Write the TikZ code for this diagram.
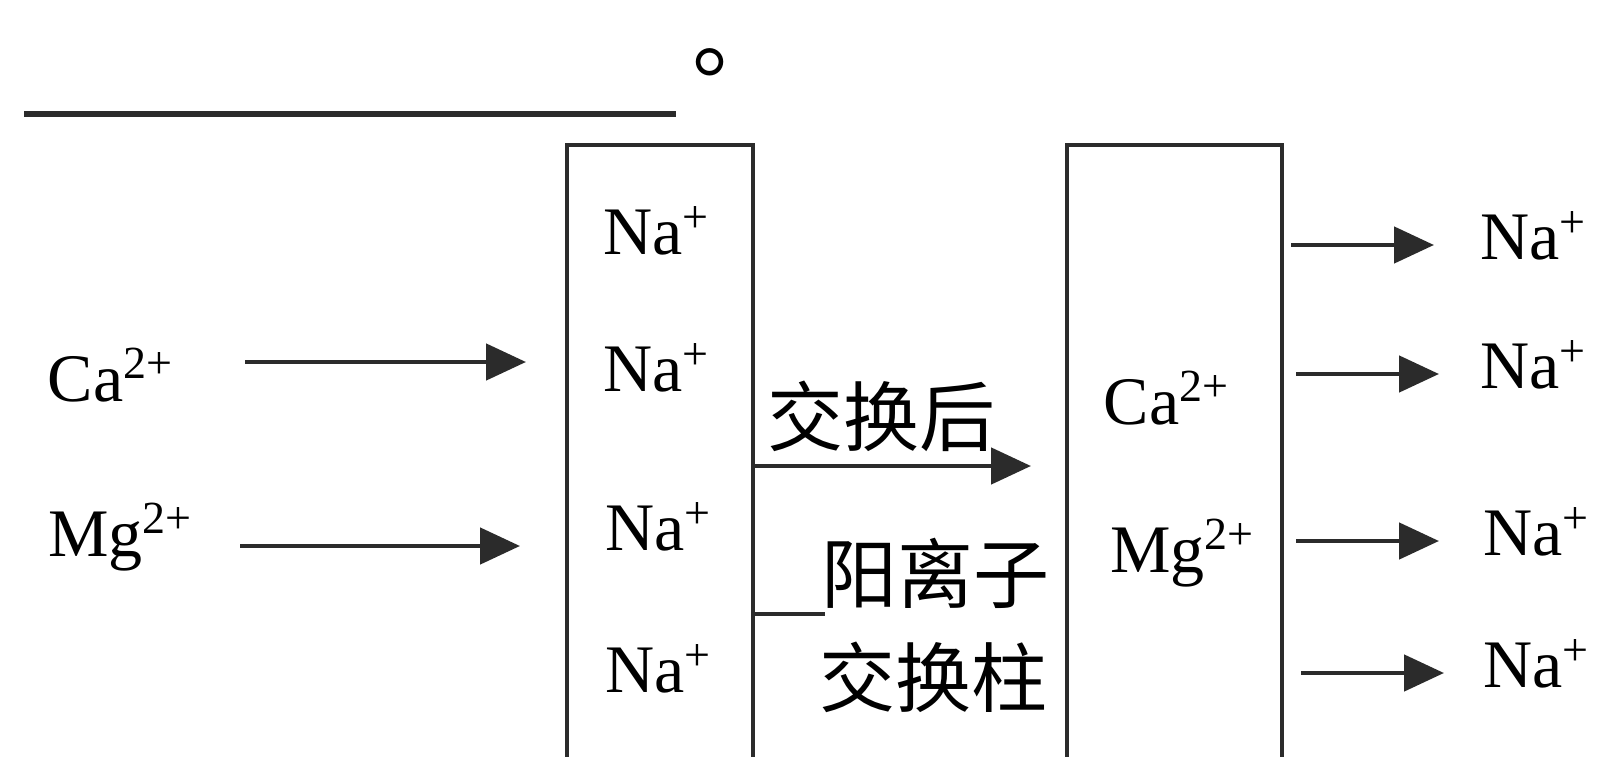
\documentclass[tikz,border=0pt]{standalone}
\usepackage{fontspec}
\usetikzlibrary{arrows.meta}
\newfontfamily\ionfam{Liberation Serif}
\newfontfamily\cjkfam{Noto Sans CJK SC}
\newcommand\ionf{\ionfam\fontsize{68}{80}\selectfont}
\newcommand\cjkf{\cjkfam\fontsize{76}{90}\selectfont}
\newcommand\stopf{\cjkfam\fontsize{90}{100}\selectfont}
\newcommand\supr[1]{\raisebox{0.33em}{\fontsize{46}{50}\selectfont #1}}
\definecolor{linegray}{HTML}{2B2B2B}
\tikzset{
  ion/.style={font=\ionf, inner sep=0pt, text=black},
  cjk/.style={font=\cjkf, inner sep=0pt, text=black},
  column/.style={draw=linegray, line width=4pt, inner sep=0pt, outer sep=0pt, minimum height=660pt},
  arr/.style={draw=linegray, line width=4.8pt, -{Triangle[length=40pt,width=36pt]}},
  plain/.style={draw=linegray, line width=4pt},
}
\begin{document}
\begin{tikzpicture}[x=1pt,y=1pt]
\useasboundingbox (0,0) rectangle (1600,-757);
\fill[white] (0,0) rectangle (1600,-757);
\clip (0,0) rectangle (1600,-757);
% answer blank
\coordinate (blankL) at (24,-114);
\coordinate (blankR) at (676,-114);
\draw[draw=linegray, line width=6pt] (blankL) -- (blankR);
\node[font=\stopf, inner sep=0pt, anchor=base west, text height=24pt, text depth=0pt] (stop) at (692,-71) {。};
% columns
\node[column, minimum width=186pt] (box1) at (660,-475) {};
\node[column, minimum width=215pt] (box2) at (1174.5,-475) {};
% ions in first column
\node[ion] (na1) at (656,-231) {Na\supr{+}};
\node[ion] (na2) at (656,-368) {Na\supr{+}};
\node[ion] (na3) at (658,-527) {Na\supr{+}};
\node[ion] (na4) at (658,-669) {Na\supr{+}};
% incoming ions
\node[ion] (ca) at (110,-375) {Ca\supr{2+}};
\node[ion] (mg) at (120,-537) {Mg\supr{2+}};
\coordinate (caS) at (245,-362);
\coordinate (caT) at (526,-362);
\coordinate (mgS) at (240,-546);
\coordinate (mgT) at (520,-546);
\draw[arr] (caS) -- (caT);
\draw[arr] (mgS) -- (mgT);
% between columns
\node[cjk] (after) at (881,-416) {交换后};
\coordinate (afterT) at (1031,-466);
\draw[arr] (box1.east |- afterT) -- (afterT);
\node[cjk] (lab1) at (935,-573) {阳离子};
\node[cjk] (lab2) at (933,-677) {交换柱};
\coordinate (lead) at (825,-614);
\draw[plain] (box1.east |- lead) -- (lead);
% second column
\node[ion] (ca2) at (1166,-398) {Ca\supr{2+}};
\node[ion] (mg2) at (1182,-553) {Mg\supr{2+}};
% outgoing
\node[ion] (out1) at (1533,-236) {Na\supr{+}};
\node[ion] (out2) at (1533,-365) {Na\supr{+}};
\node[ion] (out3) at (1536,-532) {Na\supr{+}};
\node[ion] (out4) at (1536,-664) {Na\supr{+}};
\coordinate (o1) at (1291,-245);
\coordinate (o2) at (1296,-374);
\coordinate (o3) at (1296,-541);
\coordinate (o4) at (1301,-673);
\coordinate (t1) at (1434,-245);
\coordinate (t2) at (1439,-374);
\coordinate (t3) at (1439,-541);
\coordinate (t4) at (1444,-673);
\draw[arr] (o1) -- (t1);
\draw[arr] (o2) -- (t2);
\draw[arr] (o3) -- (t3);
\draw[arr] (o4) -- (t4);
\end{tikzpicture}
\end{document}
